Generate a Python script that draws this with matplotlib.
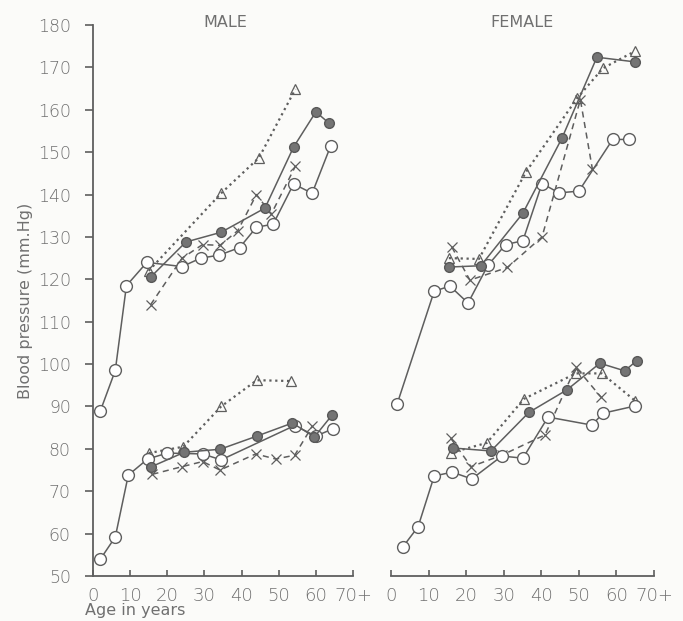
import matplotlib.pyplot as plt

# ---- data (age in years, blood pressure mm Hg) ----
# MALE systolic
m_sys_open_age = [2, 6, 9, 14.5, 24, 29, 34, 39.5, 44, 48.5, 54, 59, 64]
m_sys_open_bp = [89, 98.5, 118.5, 124, 123, 125, 125.7, 127.5, 132.3, 133, 142.5, 140.3, 151.5]
m_sys_fill_age = [15.5, 25, 34.5, 46.3, 54, 60, 63.6]
m_sys_fill_bp = [120.5, 128.8, 131.1, 136.8, 151.2, 159.5, 156.8]
m_sys_tri_age = [15, 34.5, 44.7, 54.5]
m_sys_tri_bp = [122, 140.3, 148.7, 164.9]
m_sys_x_age = [15.5, 24, 29.5, 34.2, 39, 44, 48, 54.5]
m_sys_x_bp = [114, 125, 128.2, 128, 131.5, 140, 135.4, 146.7]

# MALE diastolic
m_dia_open_age = [2, 6, 9.5, 14.7, 20, 29.5, 34.5, 54.3, 60, 64.5]
m_dia_open_bp = [54, 59.2, 73.8, 77.6, 79, 78.8, 77.4, 85.5, 83, 84.7]
m_dia_fill_age = [15.5, 24.6, 34.2, 44.1, 53.7, 59.6, 64.4]
m_dia_fill_bp = [75.7, 79.2, 79.9, 83, 86.1, 82.8, 88]
m_dia_tri_age = [15, 24.3, 34.5, 44.1, 53.2]
m_dia_tri_bp = [79, 80.5, 90, 96.2, 96]
m_dia_x_age = [16, 24, 29.5, 34.2, 43.8, 49.2, 54.3, 59]
m_dia_x_bp = [74, 75.8, 77, 75, 78.8, 77.6, 78.5, 85.3]

# FEMALE systolic
f_sys_open_age = [1.6, 11.5, 15.7, 20.5, 25.8, 30.5, 35.1, 40.2, 44.7, 50, 59, 63.3]
f_sys_open_bp = [90.5, 117.2, 118.4, 114.4, 123.3, 128.2, 129.1, 142.6, 140.4, 140.8, 153, 153]
f_sys_fill_age = [15.5, 23.9, 35.1, 45.5, 54.8, 64.9]
f_sys_fill_bp = [122.9, 123.2, 135.6, 153.3, 172.4, 171.3]
f_sys_tri_age = [15.4, 23.4, 35.9, 49.5, 56.4, 64.9]
f_sys_tri_bp = [125, 124.8, 145.3, 162.7, 169.8, 173.8]
f_sys_x_age = [16.2, 21, 31, 40.2, 50.4, 53.6]
f_sys_x_bp = [127.6, 119.8, 122.8, 130, 162.4, 146]

# FEMALE diastolic
f_dia_open_age = [3.1, 7.2, 11.5, 16.3, 21.5, 29.5, 35.1, 41.8, 53.5, 56.4, 64.9]
f_dia_open_bp = [56.8, 61.6, 73.6, 74.5, 72.9, 78.3, 77.8, 87.5, 85.6, 88.4, 90.1]
f_dia_fill_age = [16.5, 26.6, 36.7, 46.8, 55.6, 62.2, 65.4]
f_dia_fill_bp = [80.2, 79.5, 88.6, 93.9, 100.2, 98.4, 100.8]
f_dia_tri_age = [16, 25.5, 35.4, 49.2, 56.1, 64.9]
f_dia_tri_bp = [79.1, 81.4, 91.8, 97.8, 97.8, 91.4]
f_dia_x_age = [15.9, 21.3, 29.5, 41, 49.2, 55.9]
f_dia_x_bp = [82.5, 75.8, 78.5, 83.3, 99.3, 92.2]

x_ticks = [0, 10, 20, 30, 40, 50, 60, 70]
x_tick_labels = ["0", "10", "20", "30", "40", "50", "60", "70+"]
y_ticks = list(range(50, 190, 10))

ink = "#5e5e5e"
txt = "#707070"
bg = "#fbfbf9"

fig = plt.figure(figsize=(6.83, 6.21), dpi=100, facecolor=bg)
ax_m = fig.add_axes([93 / 683, 45 / 621, 260 / 683, 551 / 621])
ax_f = fig.add_axes([391 / 683, 45 / 621, 263 / 683, 551 / 621])


def draw(ax, age, bp, kind):
    if kind == "open":
        ax.plot(age, bp, "-", color=ink, lw=1.1, marker="o", ms=8.5,
                mfc="white", mec=ink, mew=1.0, zorder=3)
    elif kind == "fill":
        ax.plot(age, bp, "-", color=ink, lw=1.1, marker="o", ms=7,
                mfc="#747474", mec="#585858", mew=1.0, zorder=4)
    elif kind == "tri":
        ax.plot(age, bp, ":", color=ink, lw=1.6, marker="^", ms=6.5,
                mfc="none", mec=ink, mew=0.9, zorder=2)
    else:
        ax.plot(age, bp, "--", color=ink, lw=1.1, dashes=(4, 3), marker="x",
                ms=6.5, mec=ink, mew=0.9, zorder=2)


draw(ax_m, m_sys_open_age, m_sys_open_bp, "open")
draw(ax_m, m_sys_fill_age, m_sys_fill_bp, "fill")
draw(ax_m, m_sys_tri_age, m_sys_tri_bp, "tri")
draw(ax_m, m_sys_x_age, m_sys_x_bp, "x")
draw(ax_m, m_dia_open_age, m_dia_open_bp, "open")
draw(ax_m, m_dia_fill_age, m_dia_fill_bp, "fill")
draw(ax_m, m_dia_tri_age, m_dia_tri_bp, "tri")
draw(ax_m, m_dia_x_age, m_dia_x_bp, "x")

draw(ax_f, f_sys_open_age, f_sys_open_bp, "open")
draw(ax_f, f_sys_fill_age, f_sys_fill_bp, "fill")
draw(ax_f, f_sys_tri_age, f_sys_tri_bp, "tri")
draw(ax_f, f_sys_x_age, f_sys_x_bp, "x")
draw(ax_f, f_dia_open_age, f_dia_open_bp, "open")
draw(ax_f, f_dia_fill_age, f_dia_fill_bp, "fill")
draw(ax_f, f_dia_tri_age, f_dia_tri_bp, "tri")
draw(ax_f, f_dia_x_age, f_dia_x_bp, "x")

for ax in (ax_m, ax_f):
    ax.set_facecolor("none")
    ax.set_xlim(0, 70)
    ax.set_ylim(50, 180)
    ax.set_xticks(x_ticks)
    ax.set_xticklabels(x_tick_labels)
    ax.spines["top"].set_visible(False)
    ax.spines["right"].set_visible(False)
    ax.spines["bottom"].set_color(ink)
    ax.spines["bottom"].set_linewidth(1.3)
    ax.tick_params(axis="x", direction="in", length=4, width=1.2,
                   colors=ink, labelcolor=txt, labelsize=13, pad=8)
    for lab in ax.get_xticklabels():
        lab.set_fontweight("light")

ax_m.set_yticks(y_ticks)
ax_m.spines["left"].set_color(ink)
ax_m.spines["left"].set_linewidth(1.3)
ax_m.tick_params(axis="y", direction="out", length=6, width=1.2,
                 colors=ink, labelcolor=txt, labelsize=12.5, pad=10)
for lab in ax_m.get_yticklabels():
    lab.set_fontweight("light")
ax_m.set_ylabel("Blood pressure (mm.Hg)", color=txt, fontsize=11.5, labelpad=3)

ax_f.spines["left"].set_visible(False)
ax_f.set_yticks([])

ax_m.text(0.508, 1.005, "MALE", transform=ax_m.transAxes, ha="center",
          va="center", color=txt, fontsize=11.5)
ax_f.text(0.50, 1.005, "FEMALE", transform=ax_f.transAxes, ha="center",
          va="center", color=txt, fontsize=11.5)
fig.text(85 / 683, 1 - 611 / 621, "Age in years", ha="left", va="center",
         color=txt, fontsize=11.5)

fig.savefig("out.png", dpi=100, facecolor=bg)
